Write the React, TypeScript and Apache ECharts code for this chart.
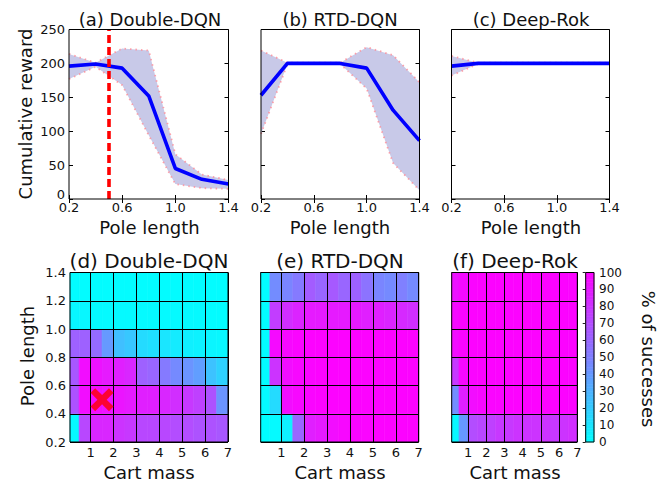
import React, { useEffect, useRef } from 'react';
import * as echarts from 'echarts';

// ---------- data: top row (cumulative reward vs pole length) ----------
const poleLengths = [0.2, 0.4, 0.6, 0.8, 1.0, 1.2, 1.4];
const poleTickLabels = [0.2, 0.6, 1.0, 1.4];
const rewardTicks = [0, 50, 100, 150, 200, 250];

const dqnMean = [196, 199, 193, 152, 45, 29, 22];
const dqnUpper = [214, 201, 222, 219, 66, 36, 28];
const dqnLower = [177, 195, 168, 94, 22, 16, 15];

const rtdMean = [153, 200, 200, 200, 193, 131, 86];
const rtdUpper = [219, 201, 201, 201, 224, 212, 172];
const rtdLower = [96, 199, 199, 199, 163, 53, 13];

const rokMean = [196, 200, 200, 200, 200, 200, 200];
const rokUpper = [211, 201, 201, 201, 201, 201, 201];
const rokLower = [182, 199, 199, 199, 199, 199, 199];

const trainedPoleLength = 0.5;

// ---------- data: bottom row (% of successes heatmaps) ----------
const massEdges = [0.1, 0.5, 1, 1.5, 2, 2.5, 3, 3.5, 4, 4.5, 5, 5.5, 6, 6.5, 7];
const poleEdges = [0.2, 0.4, 0.6, 0.8, 1.0, 1.2, 1.4];
const massTicks = [1, 2, 3, 4, 5, 6, 7];
const successTicks = [0, 10, 20, 30, 40, 50, 60, 70, 80, 90, 100];

// rows: bottom (pole 0.2-0.4) to top (pole 1.2-1.4); columns follow massEdges
const dqnSuccess = [
  [2, 72, 85, 85, 80, 78, 72, 72, 72, 70, 70, 68, 68, 66],
  [68, 95, 95, 93, 92, 90, 88, 88, 85, 82, 78, 75, 68, 42],
  [66, 95, 93, 90, 88, 85, 62, 60, 52, 46, 42, 38, 24, 18],
  [62, 62, 58, 40, 25, 22, 14, 12, 10, 8, 6, 5, 4, 3],
  [3, 3, 2, 2, 2, 2, 2, 2, 2, 2, 2, 2, 1, 1],
  [1, 1, 1, 1, 1, 1, 1, 1, 1, 1, 1, 1, 1, 1],
];
const rtdSuccess = [
  [0, 2, 6, 60, 88, 90, 95, 97, 98, 98, 99, 99, 99, 99],
  [2, 14, 95, 97, 98, 99, 99, 99, 99, 99, 99, 99, 99, 99],
  [1, 80, 95, 97, 98, 99, 99, 99, 99, 99, 99, 99, 99, 99],
  [1, 96, 97, 98, 99, 99, 99, 99, 99, 99, 99, 99, 99, 99],
  [1, 76, 82, 86, 90, 90, 90, 90, 90, 88, 88, 86, 84, 82],
  [1, 45, 48, 52, 64, 60, 65, 60, 62, 55, 48, 46, 50, 46],
];
const rokSuccess = [
  [3, 40, 70, 72, 75, 78, 78, 80, 80, 80, 80, 78, 80, 82],
  [45, 88, 95, 97, 98, 98, 99, 99, 99, 99, 99, 99, 99, 99],
  [78, 97, 98, 99, 99, 99, 99, 99, 99, 99, 99, 99, 99, 99],
  [95, 98, 99, 99, 99, 99, 99, 99, 99, 99, 99, 99, 99, 99],
  [96, 98, 99, 99, 99, 99, 99, 99, 99, 99, 99, 99, 99, 99],
  [93, 96, 98, 99, 99, 99, 99, 99, 99, 99, 99, 99, 99, 99],
];
const trainedPoint = [1.5, 0.5];

const colorbarStep = 2;

// ---------- styling ----------
const FONT = 'DejaVu Sans';
const TXT = '#111';
const BAND = '#c8c9e8';
const EDGE = 'rgba(255,140,150,0.8)';

const topGrids = [
  { left: 69, top: 29.5, width: 159.5, height: 169.5 },
  { left: 261, top: 29.5, width: 158.5, height: 169.5 },
  { left: 451.5, top: 29.5, width: 158, height: 169.5 },
];
const botGrids = [
  { left: 70, top: 272.5, width: 158, height: 169.5 },
  { left: 260.7, top: 272.5, width: 158, height: 169.5 },
  { left: 451.7, top: 272.5, width: 125.6, height: 169.5 },
];
const cbGrid = { left: 585.7, top: 272.5, width: 8.3, height: 169.5 };

function buildOption() {
  const grid: any[] = [];
  const xAxis: any[] = [];
  const yAxis: any[] = [];
  const series: any[] = [];
  const heatSeriesIdx: number[] = [];

  const border = { show: true, z: 10, borderColor: '#000', borderWidth: 1, backgroundColor: 'transparent' };
  const tickInside = { show: true, inside: true, length: 4, lineStyle: { color: '#000', width: 1 } };

  const topSets = [
    [dqnMean, dqnUpper, dqnLower],
    [rtdMean, rtdUpper, rtdLower],
    [rokMean, rokUpper, rokLower],
  ];

  topSets.forEach(([mean, upper, lower], i) => {
    grid.push({ ...topGrids[i], ...border });
    const xBase = {
      type: 'value', gridIndex: i, min: 0.2, max: 1.4, interval: 0.2,
      splitLine: { show: false }, axisLine: { show: false },
    };
    xAxis.push({
      ...xBase, position: 'bottom',
      axisTick: { ...tickInside, customValues: poleTickLabels },
      axisLabel: {
        customValues: poleTickLabels, fontFamily: FONT, fontSize: 13, color: TXT, margin: 2,
        formatter: (v: number) => v.toFixed(1),
      },
    });
    xAxis.push({
      ...xBase, position: 'top',
      axisTick: { ...tickInside, customValues: poleTickLabels },
      axisLabel: { show: false },
    });
    const yBase = {
      type: 'value', gridIndex: i, min: 0, max: 250, interval: 50,
      splitLine: { show: false }, axisLine: { show: false },
    };
    yAxis.push({
      ...yBase, position: 'left',
      axisTick: { ...tickInside, customValues: rewardTicks },
      axisLabel: {
        show: i === 0, customValues: rewardTicks, fontFamily: FONT, fontSize: 13, color: TXT, margin: 4,
        formatter: (v: number) => (v === 0 ? '{low|0}' : String(v)),
        rich: { low: { fontFamily: FONT, fontSize: 13, color: TXT, padding: [0, 0, 10, 0] } },
      },
    });
    yAxis.push({
      ...yBase, position: 'right',
      axisTick: { ...tickInside, customValues: rewardTicks },
      axisLabel: { show: false },
    });

    const xi = 2 * i;
    series.push({
      type: 'custom', xAxisIndex: xi, yAxisIndex: xi, silent: true, z: 1,
      data: poleLengths.map((x, k) => [x, lower[k], upper[k]]),
      encode: { x: 0, y: [1, 2] },
      renderItem: (params: any, api: any) => {
        if (params.dataIndex !== 0) return null;
        const pts: number[][] = [];
        poleLengths.forEach((x, k) => pts.push(api.coord([x, upper[k]])));
        for (let k = poleLengths.length - 1; k >= 0; k--) pts.push(api.coord([poleLengths[k], lower[k]]));
        return { type: 'polygon', shape: { points: pts }, style: { fill: BAND } };
      },
    });
    [upper, lower].forEach((edge) => {
      series.push({
        type: 'line', xAxisIndex: xi, yAxisIndex: xi, silent: true, z: 2,
        data: poleLengths.map((x, k) => [x, edge[k]]),
        symbol: 'none',
        lineStyle: { color: EDGE, width: 1.8, type: [1.5, 4] },
      });
    });
    const meanSeries: any = {
      type: 'line', xAxisIndex: xi, yAxisIndex: xi, silent: true, z: 3,
      data: poleLengths.map((x, k) => [x, mean[k]]),
      symbol: 'none',
      lineStyle: { color: '#0000ff', width: 3.6 },
    };
    if (i === 0) {
      meanSeries.markLine = {
        silent: true, symbol: ['none', 'none'], label: { show: false }, z: 5,
        data: [{ xAxis: trainedPoleLength }],
        lineStyle: { color: '#ff0000', width: 3.6, type: [8, 4] },
      };
    }
    series.push(meanSeries);
  });

  const heatSets = [dqnSuccess, rtdSuccess, rokSuccess];
  const rectItem = (params: any, api: any) => {
    const p0 = api.coord([api.value(0), api.value(3)]);
    const p1 = api.coord([api.value(1), api.value(2)]);
    const c = api.visual('color');
    return {
      type: 'rect',
      shape: { x: p0[0], y: p0[1], width: p1[0] - p0[0], height: p1[1] - p0[1] },
      style: { fill: c, stroke: c, lineWidth: 0.6 },
    };
  };

  heatSets.forEach((grid2d, j) => {
    const gi = 3 + j;
    grid.push({ ...botGrids[j], ...border });
    xAxis.push({
      type: 'value', gridIndex: gi, min: massEdges[0], max: massEdges[massEdges.length - 1], z: 10,
      position: 'bottom',
      axisLine: { show: false },
      axisTick: { show: false, customValues: massTicks },
      splitLine: { show: true, lineStyle: { color: '#000', width: 1 } },
      axisLabel: { customValues: massTicks, fontFamily: FONT, fontSize: 13, color: TXT, margin: 4 },
    });
    yAxis.push({
      type: 'value', gridIndex: gi, min: poleEdges[0], max: poleEdges[poleEdges.length - 1], interval: 0.2, z: 10,
      position: 'left',
      axisLine: { show: false },
      axisTick: { show: false },
      splitLine: { show: true, lineStyle: { color: '#000', width: 1 } },
      axisLabel: {
        show: j === 0, fontFamily: FONT, fontSize: 13, color: TXT, margin: 4,
        formatter: (v: number) => v.toFixed(1),
      },
    });
    const data: number[][] = [];
    grid2d.forEach((row, r) => {
      row.forEach((v, c) => {
        data.push([massEdges[c], massEdges[c + 1], poleEdges[r], poleEdges[r + 1], v]);
      });
    });
    heatSeriesIdx.push(series.length);
    series.push({
      type: 'custom', xAxisIndex: 6 + j, yAxisIndex: 6 + j, silent: true, z: 2,
      data, encode: { x: [0, 1], y: [2, 3] },
      renderItem: rectItem,
    });
  });

  series.push({
    type: 'scatter', xAxisIndex: 6, yAxisIndex: 6, silent: true, z: 20,
    data: [trainedPoint],
    symbol: 'path://M0,4 L4,0 L10,6 L16,0 L20,4 L14,10 L20,16 L16,20 L10,14 L4,20 L0,16 L6,10 Z',
    symbolSize: 23,
    itemStyle: { color: '#ff0000' },
  });

  // colorbar
  grid.push({ ...cbGrid, ...border });
  xAxis.push({ type: 'value', gridIndex: 6, min: 0, max: 1, show: false });
  yAxis.push({
    type: 'value', gridIndex: 6, min: 0, max: 100, interval: 10, position: 'right', z: 10,
    axisLine: { show: false },
    splitLine: { show: false },
    axisTick: { show: true, inside: true, length: 3, lineStyle: { color: '#222' } },
    axisLabel: { fontFamily: FONT, fontSize: 12, color: TXT, margin: 5, customValues: successTicks },
  });
  const cbData: number[][] = [];
  for (let lo = 0; lo < 100; lo += colorbarStep) {
    cbData.push([0, 1, lo, lo + colorbarStep, lo + colorbarStep / 2]);
  }
  heatSeriesIdx.push(series.length);
  series.push({
    type: 'custom', xAxisIndex: 9, yAxisIndex: 9, silent: true, z: 2,
    data: cbData, encode: { x: [0, 1], y: [2, 3] },
    renderItem: rectItem,
  });

  const text = (t: string, x: number, y: number, rotation = 0, size = 18) => ({
    type: 'text', x, y, rotation, silent: true,
    style: { text: t, font: `${size}px "${FONT}"`, fill: TXT, align: 'center', verticalAlign: 'middle' },
  });

  const graphic = [
    text('(a) Double-DQN', 150, 19),
    text('(b) RTD-DQN', 340, 19),
    text('(c) Deep-Rok', 531, 19),
    text('Cumulative reward', 25, 114, Math.PI / 2),
    text('Pole length', 149.5, 227),
    text('Pole length', 340, 227),
    text('Pole length', 531, 227),
    text('(d) Double-DQN', 149, 261, 0, 20),
    text('(e) RTD-DQN', 340, 261, 0, 20),
    text('(f) Deep-Rok', 515, 261, 0, 20),
    text('Pole length', 27.5, 356, Math.PI / 2),
    text('Cart mass', 149, 472),
    text('Cart mass', 340, 472),
    text('Cart mass', 515, 472),
    text('% of successes', 648, 359, -Math.PI / 2),
  ];

  return {
    animation: false,
    backgroundColor: '#ffffff',
    textStyle: { fontFamily: FONT },
    grid,
    xAxis,
    yAxis,
    visualMap: {
      type: 'continuous', show: false, min: 0, max: 100, dimension: 4,
      seriesIndex: heatSeriesIdx,
      inRange: { color: ['#00ffff', '#ff00ff'] },
    },
    series,
    graphic,
  };
}

export default function App() {
  const ref = useRef<HTMLDivElement>(null);
  useEffect(() => {
    document.body.style.margin = '0';
    if (!ref.current) return;
    const chart = echarts.init(ref.current, undefined, { renderer: 'svg' });
    chart.setOption(buildOption() as any);
    return () => chart.dispose();
  }, []);
  return <div ref={ref} style={{ width: 660, height: 483 }} />;
}
